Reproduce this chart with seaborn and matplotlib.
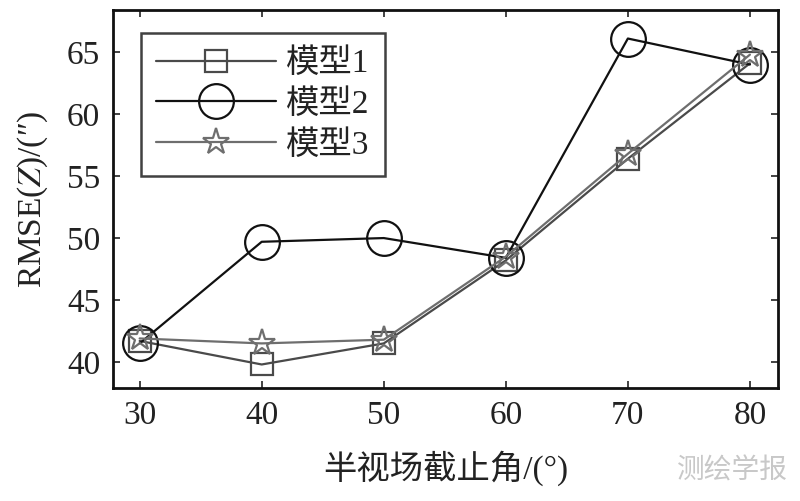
import matplotlib
matplotlib.use("Agg")
import matplotlib.pyplot as plt
import pandas as pd
import seaborn as sns

# half field-of-view cutoff angle (deg)
angles = [30, 40, 50, 60, 70, 80]
model1 = [41.7, 39.8, 41.5, 48.2, 56.4, 64.1]
model2 = [41.5, 49.7, 50.0, 48.4, 66.1, 64.0]
model3 = [41.9, 41.5, 41.8, 48.5, 56.8, 64.8]
labels = ["模型1", "模型2", "模型3"]

xticks = [30, 40, 50, 60, 70, 80]
yticks = [40, 45, 50, 55, 60, 65]

sns.set_theme(style="ticks")
plt.rcParams["font.family"] = ["Liberation Serif", "Noto Sans CJK SC", "DejaVu Sans"]
plt.rcParams["mathtext.fontset"] = "stix"

df = pd.DataFrame({
    "angle": angles * 3,
    "rmse": model1 + model2 + model3,
    "model": [labels[0]] * 6 + [labels[1]] * 6 + [labels[2]] * 6,
})

styles = {
    labels[0]: dict(color="#4a4a4a", marker="s", markersize=16, lw=1.6),
    labels[1]: dict(color="#111111", marker="o", markersize=25, lw=1.6),
    labels[2]: dict(color="#6e6e6e", marker="*", markersize=20, lw=1.6),
}

fig = plt.figure(figsize=(8, 5.01), dpi=100)
ax = fig.add_axes([0.141, 0.2255, 0.8315, 0.7545])

for name in labels:
    sub = df[df["model"] == name]
    st = styles[name]
    sns.lineplot(
        data=sub, x="angle", y="rmse", ax=ax, label=name,
        color=st["color"], marker=st["marker"], markersize=st["markersize"],
        markerfacecolor="none", markeredgecolor=st["color"], markeredgewidth=1.6,
        linewidth=st["lw"],
    )

ax.set_xlim(27.8, 82.3)
ax.set_ylim(37.9, 68.4)
ax.set_xticks(xticks)
ax.set_yticks(yticks)
ax.tick_params(direction="in", top=True, right=True, length=5, width=1.2,
               labelsize=24, pad=9, colors="#222222")
for spine in ax.spines.values():
    spine.set_linewidth(2)
    spine.set_color("#111111")

ax.set_xlabel("半视场截止角/(°)", fontsize=24, color="#222222", labelpad=14)
ax.set_ylabel("RMSE($\\it{Z}$)/(″)", fontsize=24, color="#222222", labelpad=12)

leg = ax.legend(loc="upper left", bbox_to_anchor=(0.018, 0.982), fontsize=24,
                frameon=True, fancybox=False, handlelength=3.6, handletextpad=0.3,
                borderpad=0.45, labelspacing=0.3)
leg.get_frame().set_edgecolor("#111111")
leg.get_frame().set_linewidth(1.8)
for t in leg.get_texts():
    t.set_color("#222222")

fig.text(0.985, 0.03, "测绘学报", ha="right", va="bottom", fontsize=20,
         color="#c8c8c8", family=["Noto Sans CJK SC"])

fig.savefig("out.png", dpi=100)
